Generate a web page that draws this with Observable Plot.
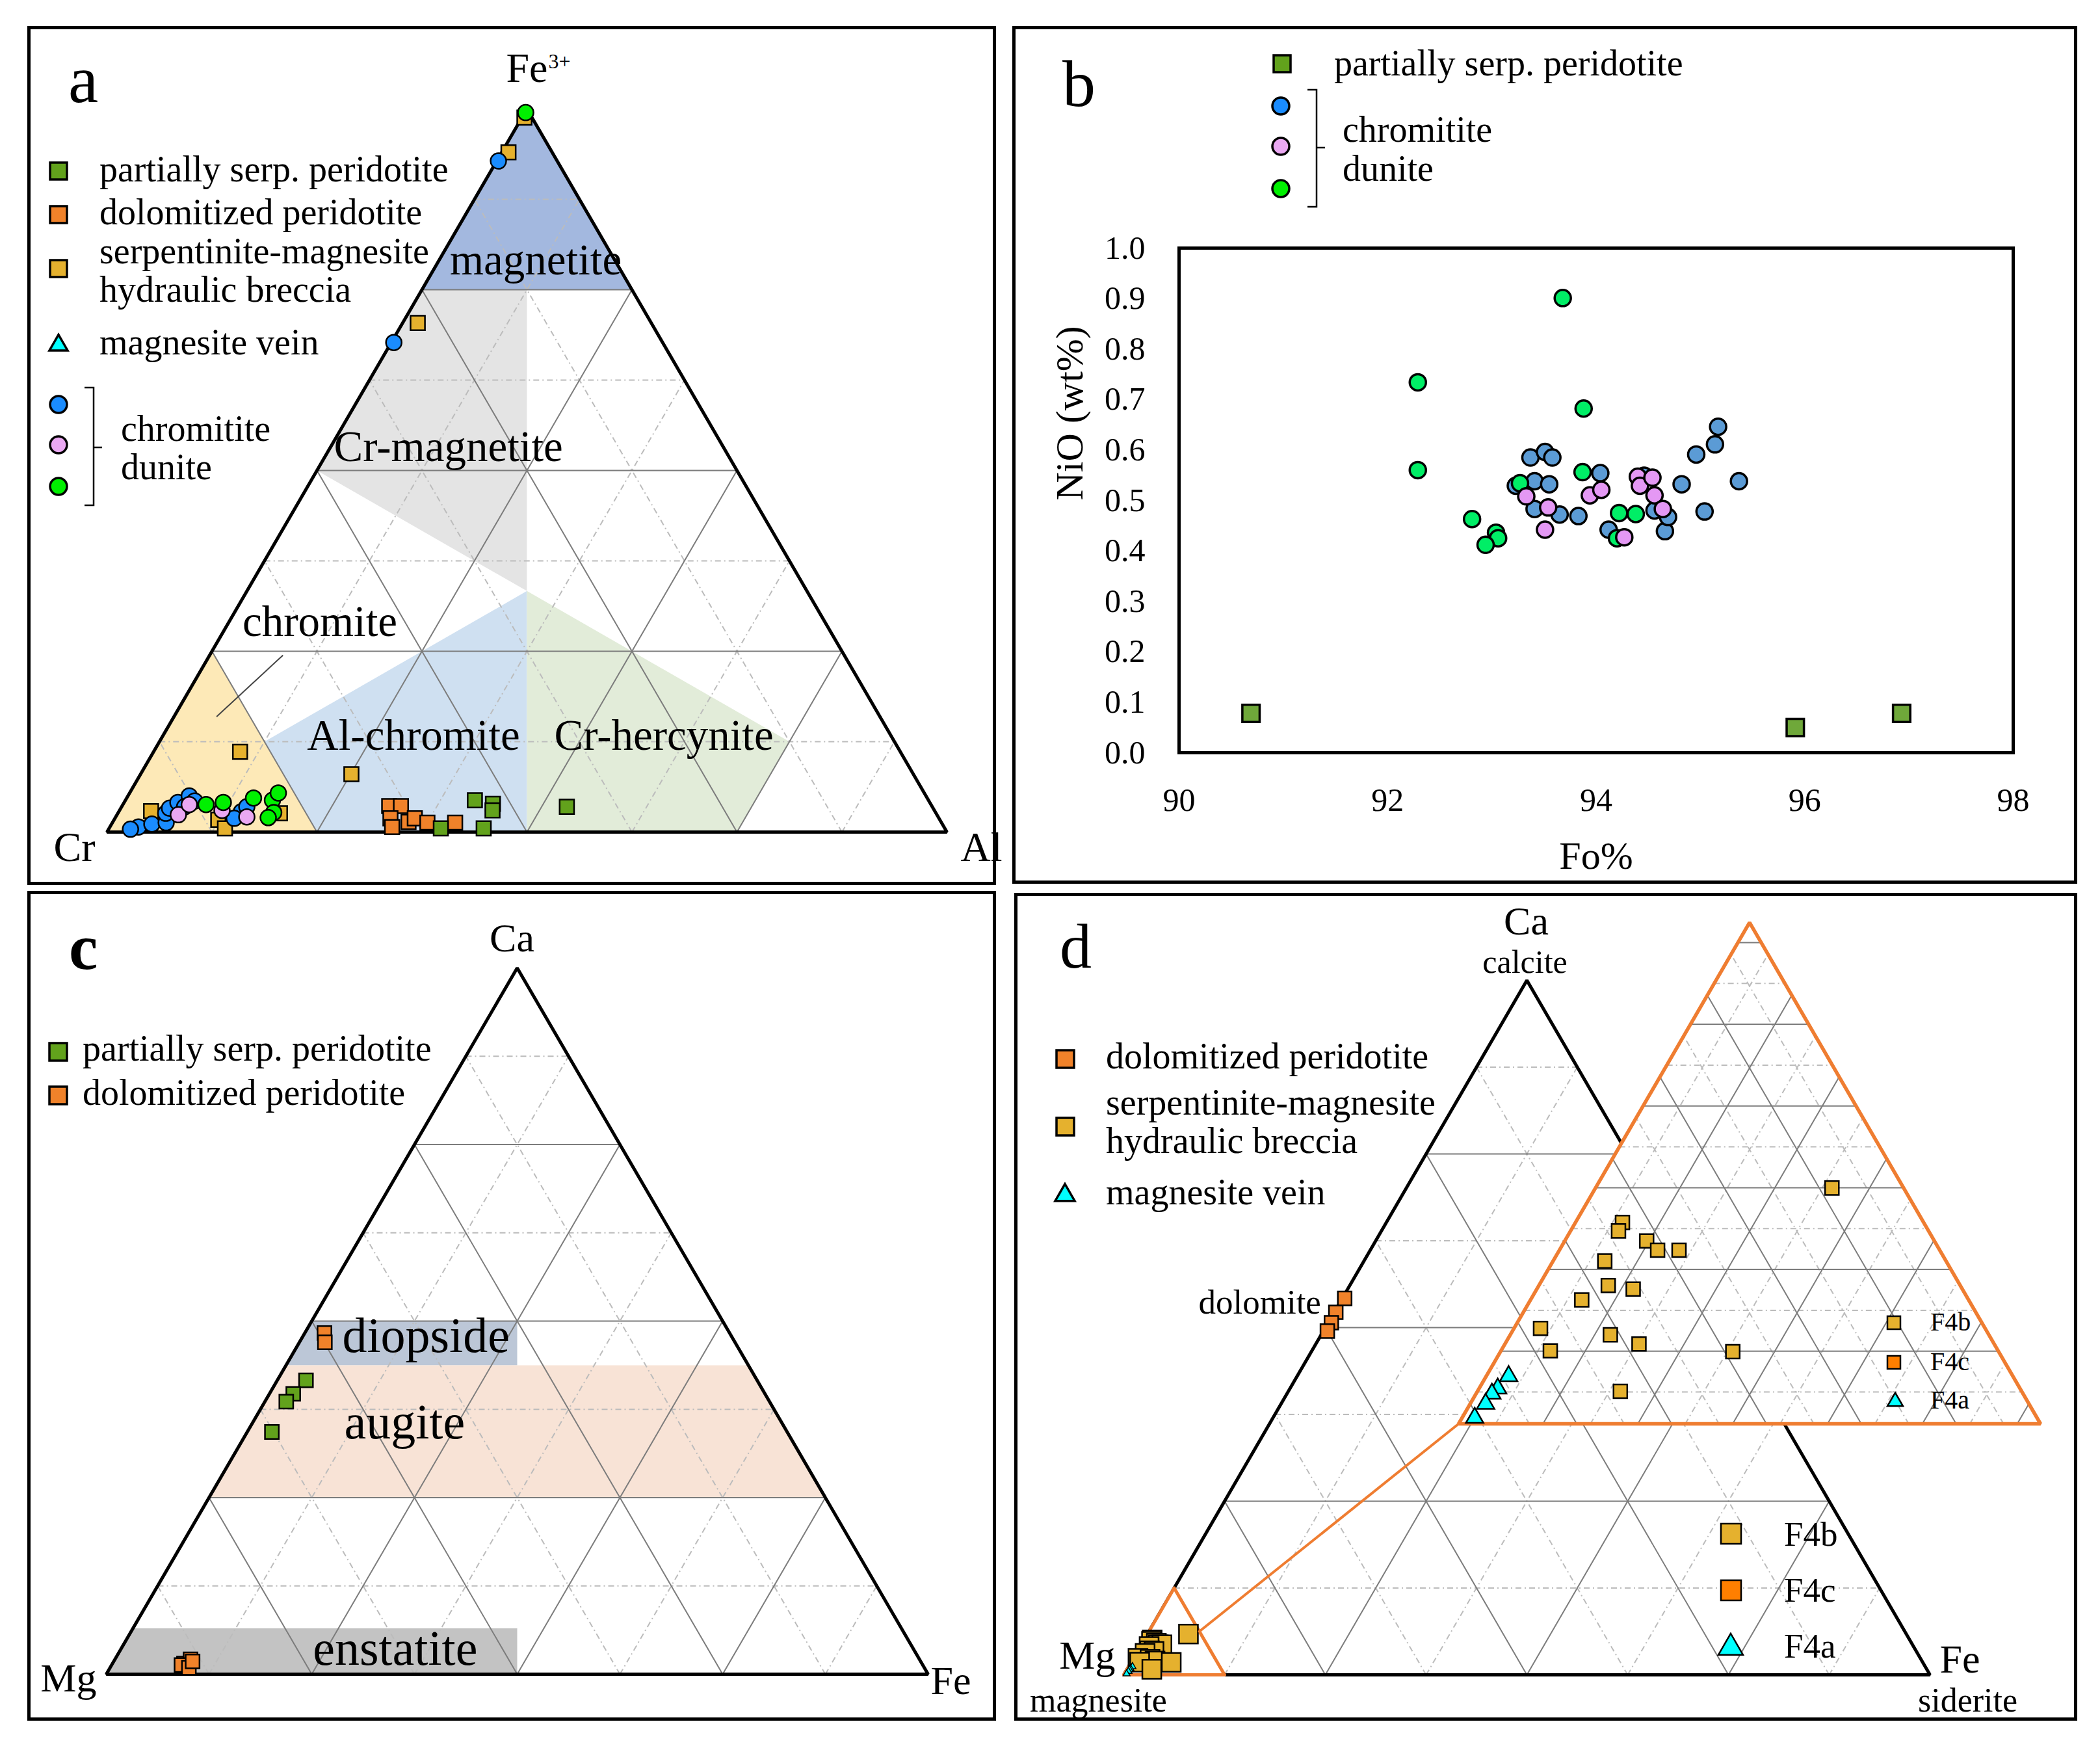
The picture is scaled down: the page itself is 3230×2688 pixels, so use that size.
<!DOCTYPE html>
<html><head><meta charset="utf-8">
<script src="https://cdn.jsdelivr.net/npm/d3@7"></script>
<script src="https://cdn.jsdelivr.net/npm/@observablehq/plot@0.6"></script>
<style>
html,body{margin:0;padding:0;background:#fff;}
#fig{position:relative;width:3230px;height:2688px;background:#fff;font-family:"Liberation Serif","DejaVu Serif",serif;color:#000;overflow:hidden}
.border{position:absolute;border:5px solid #000;box-sizing:border-box;pointer-events:none}
.t{position:absolute;white-space:nowrap;line-height:1}
.plotwrap{position:absolute}
</style></head><body><div id="fig"></div>
<script>
// ================= DATA =================
// Panel a: spinel ternary Cr - Al - Fe3+ ; each point = [Fe3+ %, Al %]
const aPeridotite = [[4.4,41.6],[3.9,44.0],[3.0,44.4],[0.5,39.5],[0.5,44.6],[3.5,53.0]];
const aDolomitized = [[3.6,31.8],[3.6,33.2],[1.9,32.8],[0.7,33.6],[1.4,35.2],[1.9,35.7],[1.3,37.5],[1.3,40.8]];
const aBreccia = [[11.1,10.3],[8.0,25.1],[2.9,3.8],[1.7,12.4],[0.5,13.8],[2.6,19.3],[94.0,0.8],[70.4,1.8],[98.8,0.3]];
const aBlue = [[0.7,3.4],[1.1,4.8],[1.3,6.4],[2.6,5.7],[3.3,5.8],[4.1,6.4],[5.0,7.3],[4.3,8.3],[2.8,14.6],[3.5,14.9],[0.4,2.6],[3.5,7.5],[1.9,14.2],[92.8,0.2],[67.7,0.3]];
const aPink = [[2.4,7.3],[3.8,7.9],[3.0,12.2],[2.1,15.6]];
const aGreen = [[3.8,9.9],[4.1,11.8],[4.7,15.1],[4.4,17.5],[5.4,17.7],[2.7,18.5],[2.0,18.2],[99.5,0.1]];
const aFieldNames = ["magnetite","Cr-magnetite","chromite","Al-chromite","Cr-hercynite"];
const aFieldColors = ["#a3b8df","#e4e4e4","#fde9b7","#cfe0f1","#e2ecd9"];
const aFieldPolys = [
  [[100,0],[75,0],[75,25]],
  [[75,0],[75,12.5],[33.33,33.33],[50,0]],
  [[0,0],[25,0],[0,25]],
  [[0,25],[12.5,12.5],[33.33,33.33],[0,50]],
  [[0,50],[33.33,33.33],[12.5,75],[0,75]]
];
const aLabelPos = [[77.1,12.5],[51.3,15.0],[27.1,11.8],[11.4,30.8],[11.4,60.6]];
const aLeader = [[24.4,8.7],[16.0,5.1]];

// Panel b: Fo% vs NiO (wt%)
const bPeridotite = [[90.69,0.078],[95.91,0.050],[96.93,0.078]];
const bBlue = [[93.37,0.585],[93.51,0.596],[93.58,0.585],[93.23,0.529],[93.41,0.538],[93.55,0.532],[93.41,0.483],[93.65,0.472],[93.83,0.469],[94.04,0.554],[94.12,0.442],[94.66,0.439],[94.69,0.467],[94.56,0.480],[94.46,0.549],[94.82,0.532],[94.96,0.591],[95.04,0.478],[95.14,0.611],[95.17,0.646],[95.37,0.538]];
const bPink = [[93.33,0.508],[93.54,0.486],[93.51,0.442],[93.94,0.510],[94.05,0.521],[94.40,0.547],[94.42,0.529],[94.54,0.545],[94.56,0.510],[94.64,0.483],[94.27,0.427]];
const bGreen = [[93.68,0.901],[92.29,0.734],[93.88,0.682],[92.29,0.560],[93.87,0.556],[93.27,0.534],[92.81,0.463],[93.04,0.436],[93.06,0.425],[92.94,0.412],[94.22,0.475],[94.38,0.473],[94.20,0.425]];
const bXTicks = [90,92,94,96,98];
const bYTicks = [0,0.1,0.2,0.3,0.4,0.5,0.6,0.7,0.8,0.9,1.0];

// Panel c: pyroxene ternary Mg - Fe - Ca ; each point = [Ca %, Fe %]
const cPeridotite = [[41.6,3.5],[39.7,2.9],[38.6,2.6],[34.3,3.0]];
const cDolomitized = [[48.3,2.4],[47.0,3.1],[1.5,8.7],[2.1,9.2],[1.3,8.5],[0.9,9.6],[1.8,9.6]];
const cFieldNames = ["diopside","augite","enstatite"];
const cFieldColors = ["#bcc7d7","#f8e3d6","#c3c3c3"];
const cFieldPolys = [
  [[50,0],[50,25],[43.75,28.125],[43.75,0]],
  [[43.75,0],[43.75,56.25],[25,75],[25,0]],
  [[6.5,0],[6.5,46.75],[0,50],[0,0]]
];
const cLabelPos = [[45.6,16.1],[33.4,19.6],[1.3,34.5]];

// Panel d: carbonate ternary Mg - Fe - Ca ; each point = [Ca %, Fe %]
const dDolomitized = [[54.2,0.3],[52.2,0.2],[50.7,0.4],[49.5,0.5]];
const dBreccia = [[5.88,5.08],[5.02,1.01],[4.81,1.03],[4.56,1.76],[4.33,2.11],[4.33,2.57],[4.06,1.11],[3.45,1.49],[3.36,2.07],[3.09,1.10],[2.38,0.57],[2.22,2.15],[1.99,2.88],[1.82,1.06],[1.80,4.99],[0.81,3.07]];
const dVein = [[1.19,0.48],[0.88,0.40],[0.75,0.34],[0.50,0.33],[0.15,0.27]];
const dInsetRange = 12.5; // % shown by the magnified inset

// colours
const COL = {
  peridotite: "#62a21c", peridotiteB: "#6fa83a", dolomitized: "#f0822a", breccia: "#e5b12e",
  vein: "#00ffff", blue: "#1a8cff", pink: "#eaa8f2", green: "#00f000",
  blueB: "#5b9bd5", pinkB: "#e498f4", greenB: "#00ee66", f4c: "#ff7f00", inset: "#ef7d31"
};
const FONT = '"Liberation Serif","DejaVu Serif",serif';

// ================= HELPERS =================
const fig = document.getElementById("fig");
const SQ = Math.sqrt(3) / 2;
const P = (t, r) => [r + t / 2, t * SQ];          // ternary (top, right) fractions -> cartesian
const pct = arr => arr.map(([t, r]) => P(t / 100, r / 100));
const gridVals = d3.range(1, 8).map(k => k / 8);

function gridSegs(vals, isSolid, map = p => p) {
  const out = [];
  vals.forEach((v, i) => {
    const solid = isSolid(v, i);
    [[P(v, 0), P(v, 1 - v)], [P(0, v), P(1 - v, v)], [P(0, 1 - v), P(1 - v, 0)]]
      .forEach(([a, b]) => out.push({a: map(a), b: map(b), solid}));
  });
  return out;
}
function gridMarks(segs) {
  const acc = {x1: d => d.a[0], y1: d => d.a[1], x2: d => d.b[0], y2: d => d.b[1]};
  return [
    Plot.link(segs.filter(d => !d.solid), {...acc, stroke: "#bcbcbc", strokeWidth: 2, strokeDasharray: "9,5,2,5"}),
    Plot.link(segs.filter(d => d.solid), {...acc, stroke: "#7c7c7c", strokeWidth: 2})
  ];
}
const outline = (map = p => p, stroke = "#000", sw = 5, fill = "none") =>
  Plot.line([P(0, 0), P(0, 1), P(1, 0)].map(map), {curve: "linear-closed", stroke, strokeWidth: sw, fill, strokeLinejoin: "miter"});
const lab = (p, s, opts) => Plot.text([{p, s}], {x: d => d.p[0], y: d => d.p[1], text: d => d.s, lineAnchor: "bottom", textAnchor: "middle", ...opts});
const dots = (pts, symbol, r, fill, sw = 2.5) => Plot.dot(pts, {x: d => d[0], y: d => d[1], symbol, r, fill, stroke: "#000", strokeWidth: sw});

function addPlot(chart, left, top) {
  const w = document.createElement("div");
  w.className = "plotwrap"; w.style.left = left + "px"; w.style.top = top + "px";
  w.appendChild(chart); fig.appendChild(w);
}
function addBorder(left, top, w, h) {
  const d = document.createElement("div"); d.className = "border";
  Object.assign(d.style, {left: left + "px", top: top + "px", width: w + "px", height: h + "px"});
  fig.appendChild(d);
}
function txt(s, x, baseline, size, opts = {}) {
  const d = document.createElement("div"); d.className = "t"; d.textContent = s;
  d.style.fontSize = size + "px"; d.style.left = x + "px"; d.style.top = (baseline - 0.8375 * size) + "px";
  if (opts.bold) d.style.fontWeight = "bold";
  fig.appendChild(d);
}
const NS = "http://www.w3.org/2000/svg";
function svgEl(tag, attrs) { const e = document.createElementNS(NS, tag); for (const k in attrs) e.setAttribute(k, attrs[k]); return e; }
function marker(shape, fill, size, cx, cy, sw = 3.5) {
  const pad = 6, W = size + 2 * pad;
  const s = svgEl("svg", {width: W, height: W});
  Object.assign(s.style, {position: "absolute", left: (cx - W / 2) + "px", top: (cy - W / 2) + "px", overflow: "visible"});
  let e;
  if (shape === "square") e = svgEl("rect", {x: pad, y: pad, width: size, height: size});
  else if (shape === "circle") e = svgEl("circle", {cx: W / 2, cy: W / 2, r: size / 2});
  else { const h = size * SQ, y0 = W / 2 - h / 2 - h * 0.05; e = svgEl("polygon", {points: `${W/2},${y0} ${W/2 - size/2},${y0 + h} ${W/2 + size/2},${y0 + h}`}); }
  e.setAttribute("fill", fill); e.setAttribute("stroke", "#000"); e.setAttribute("stroke-width", sw); e.setAttribute("stroke-linejoin", "miter");
  s.appendChild(e); fig.appendChild(s);
}
function bracket(x1, x2, y1, y2, ym, xt) {
  const s = svgEl("svg", {width: 3230, height: 2688});
  Object.assign(s.style, {position: "absolute", left: "0px", top: "0px", overflow: "visible", pointerEvents: "none"});
  s.appendChild(svgEl("path", {d: `M${x1},${y1}H${x2}V${y2}H${x1}M${x2},${ym}H${xt}`, fill: "none", stroke: "#000", "stroke-width": 2.5}));
  fig.appendChild(s);
}
const baseStyle = {fontFamily: FONT, background: "transparent", overflow: "visible", fontSize: "56px"};

// ================= PANEL A =================
{
  const L = 42, T = 40, W = 1490, H = 1321;
  const chart = Plot.plot({
    width: W, height: H, marginLeft: 122, marginRight: 76, marginTop: 127, marginBottom: 82,
    x: {domain: [0, 1], axis: null}, y: {domain: [0, SQ], axis: null},
    style: baseStyle,
    marks: [
      ...aFieldPolys.map((poly, i) => Plot.line(pct(poly), {curve: "linear-closed", fill: aFieldColors[i], stroke: "none"})),
      ...gridMarks(gridSegs(gridVals, (v, i) => i % 2 === 1)),
      outline(),
      Plot.line(pct(aLeader), {stroke: "#444", strokeWidth: 2}),
      Plot.text(pct(aLabelPos), {x: d => d[0], y: d => d[1], text: (d, i) => aFieldNames[i], fontSize: 67, lineAnchor: "bottom", textAnchor: "middle"}),
      dots(pct(aBreccia), "square", 12.5, COL.breccia),
      dots(pct(aDolomitized), "square", 12.5, COL.dolomitized),
      dots(pct(aPeridotite), "square", 12.5, COL.peridotite),
      dots(pct(aBlue), "circle", 12, COL.blue),
      dots(pct(aPink), "circle", 12, COL.pink),
      dots(pct(aGreen), "circle", 12, COL.green),
      lab(P(1, 0), "Fe", {dy: -42, fontSize: 64}),
      lab(P(1, 0), "3+", {textAnchor: "start", dx: 33, dy: -63, fontSize: 32}),
      lab(P(0, 0), "Cr", {textAnchor: "end", dx: -18, dy: 44, fontSize: 64}),
      lab(P(0, 1), "Al", {textAnchor: "start", dx: 21, dy: 44, fontSize: 64})
    ]
  });
  addPlot(chart, L, T);
  addBorder(L, T, W, H);
  txt("a", 105, 157, 104);
  marker("square", COL.peridotite, 26, 90, 263);
  marker("square", COL.dolomitized, 26, 90, 330);
  marker("square", COL.breccia, 26, 90, 413);
  marker("triangle", COL.vein, 28, 90, 528);
  marker("circle", COL.blue, 26, 90, 622);
  marker("circle", COL.pink, 26, 90, 684);
  marker("circle", COL.green, 26, 90, 748);
  txt("partially serp. peridotite", 153, 279, 56);
  txt("dolomitized peridotite", 153, 345, 56);
  txt("serpentinite-magnesite", 153, 405, 56);
  txt("hydraulic breccia", 153, 464, 56);
  txt("magnesite vein", 153, 545, 56);
  bracket(130, 144, 596, 777, 688, 157);
  txt("chromitite", 186, 678, 56);
  txt("dunite", 186, 737, 56);
}

// ================= PANEL B =================
{
  const L = 1557, T = 40, W = 1638, H = 1319;
  const chart = Plot.plot({
    width: W, height: H, marginLeft: 256, marginRight: 99, marginTop: 341, marginBottom: 202,
    x: {domain: [90, 98], ticks: bXTicks, tickSize: 0, tickPadding: 54, label: null},
    y: {domain: [0, 1], ticks: bYTicks, tickSize: 0, tickPadding: 52, tickFormat: d3.format(".1f"), label: null},
    style: {...baseStyle, fontSize: "50px"},
    marks: [
      Plot.frame({stroke: "#000", strokeWidth: 5}),
      dots(bPeridotite, "square", 15, COL.peridotiteB, 3.5),
      dots(bBlue, "circle", 12.5, COL.blueB, 3.5),
      dots(bGreen, "circle", 12.5, COL.greenB, 3.5),
      dots(bPink, "circle", 12.5, COL.pinkB, 3.5),
      Plot.text(["Fo%"], {frameAnchor: "bottom", dy: 178, lineAnchor: "bottom", fontSize: 60}),
      Plot.text(["NiO (wt%)"], {frameAnchor: "left", rotate: -90, dx: -149, lineAnchor: "bottom", fontSize: 60})
    ]
  });
  addPlot(chart, L, T);
  addBorder(L, T, W, H);
  txt("b", 1634, 163, 102);
  marker("square", COL.peridotite, 26, 1972, 98);
  marker("circle", COL.blue, 26, 1970, 163);
  marker("circle", COL.pink, 26, 1970, 225);
  marker("circle", COL.green, 26, 1970, 290);
  txt("partially serp. peridotite", 2052, 116, 56);
  bracket(2011, 2025, 138, 318, 227, 2038);
  txt("chromitite", 2065, 218, 56);
  txt("dunite", 2065, 278, 56);
}

// ================= PANEL C =================
{
  const L = 42, T = 1370, W = 1490, H = 1276;
  const chart = Plot.plot({
    width: W, height: H, marginLeft: 121, marginRight: 105, marginTop: 118, marginBottom: 72,
    x: {domain: [0, 1], axis: null}, y: {domain: [0, SQ], axis: null},
    style: baseStyle,
    marks: [
      ...cFieldPolys.map((poly, i) => Plot.line(pct(poly), {curve: "linear-closed", fill: cFieldColors[i], stroke: "none"})),
      ...gridMarks(gridSegs(gridVals, (v, i) => i % 2 === 1)),
      outline(),
      Plot.text(pct(cLabelPos), {x: d => d[0], y: d => d[1], text: (d, i) => cFieldNames[i], fontSize: 76, lineAnchor: "bottom", textAnchor: "middle"}),
      dots(pct(cPeridotite), "square", 12, COL.peridotite),
      dots(pct(cDolomitized), "square", 12, COL.dolomitized),
      lab(P(1, 0), "Ca", {dx: -8, dy: -26, fontSize: 62}),
      lab(P(0, 0), "Mg", {textAnchor: "end", dx: -15, dy: 26, fontSize: 62}),
      lab(P(0, 1), "Fe", {textAnchor: "start", dx: 4, dy: 30, fontSize: 62})
    ]
  });
  addPlot(chart, L, T);
  addBorder(L, T, W, H);
  txt("c", 106, 1491, 100, {bold: true});
  marker("square", COL.peridotite, 27, 89, 1617);
  marker("square", COL.dolomitized, 27, 89, 1684);
  txt("partially serp. peridotite", 127, 1631, 56);
  txt("dolomitized peridotite", 127, 1699, 56);
}

// ================= PANEL D =================
{
  const L = 1560, T = 1373, W = 1635, H = 1273;
  const r = dInsetRange / 100;
  const IN = {x0: 0.4153, y0: 0.313, s: 0.7218};         // inset placement (layout)
  const toInset = ([x, y]) => [IN.x0 + IN.s * x, IN.y0 + IN.s * y];
  const insetPts = arr => arr.map(([ca, fe]) => toInset(P(ca / 100 / r, fe / 100 / r)));
  const insetGridVals = d3.range(12).map(k => 0.0635 + 0.0815 * k);
  const chart = Plot.plot({
    width: W, height: H, marginLeft: 168, marginRight: 227, marginTop: 134, marginBottom: 71,
    x: {domain: [0, 1], axis: null}, y: {domain: [0, SQ], axis: null},
    style: baseStyle,
    marks: [
      ...gridMarks(gridSegs(gridVals, (v, i) => i % 2 === 1)),
      outline(),
      dots(pct(dDolomitized), "square", 11.9, COL.dolomitized),
      Plot.line([P(0, 0), P(0, r), P(r, 0)], {curve: "linear-closed", stroke: COL.inset, strokeWidth: 5, fill: "white"}),
      dots(pct(dBreccia), "square", 16.4, COL.breccia),
      dots(pct(dVein), "triangle", 4, COL.vein, 1.5),
      Plot.line([P(r / 2, r / 2), toInset(P(0, 0))], {stroke: COL.inset, strokeWidth: 4}),
      outline(toInset, "none", 0, "white"),
      ...gridMarks(gridSegs(insetGridVals, (v, i) => i % 2 === 1, toInset)),
      outline(toInset, COL.inset, 5.5),
      dots(insetPts(dBreccia), "square", 11.9, COL.breccia),
      dots(insetPts(dVein), "triangle", 10, COL.vein),
      lab(P(0.52, 0), "dolomite", {textAnchor: "end", dx: -19, fontSize: 53}),
      lab(P(1, 0), "Ca", {dx: -1, dy: -71, fontSize: 62}),
      lab(P(1, 0), "calcite", {dx: -3, dy: -12, fontSize: 50}),
      lab(P(0, 0), "Mg", {textAnchor: "end", dx: -13, dy: -10, fontSize: 62}),
      lab(P(0, 0), "magnesite", {dx: -39, dy: 56, fontSize: 52}),
      lab(P(0, 1), "Fe", {textAnchor: "start", dx: 15, dy: -4, fontSize: 62}),
      lab(P(0, 1), "siderite", {dx: 58, dy: 56, fontSize: 52})
    ]
  });
  addPlot(chart, L, T);
  addBorder(L, T, W, H);
  txt("d", 1630, 1488, 98);
  marker("square", COL.dolomitized, 27, 1638, 1628);
  marker("square", COL.breccia, 27, 1638, 1732);
  marker("triangle", COL.vein, 30, 1638, 1835);
  txt("dolomitized peridotite", 1701, 1643, 56);
  txt("serpentinite-magnesite", 1701, 1714, 56);
  txt("hydraulic breccia", 1701, 1773, 56);
  txt("magnesite vein", 1701, 1852, 56);
  // big legend
  marker("square", COL.breccia, 31, 2662, 2358, 2.5);
  marker("square", COL.f4c, 31, 2662, 2445, 2.5);
  marker("triangle", COL.vein, 38, 2662, 2530, 2.5);
  txt("F4b", 2744, 2377, 53);
  txt("F4c", 2744, 2463, 53);
  txt("F4a", 2744, 2549, 53);
  // inset legend
  marker("square", COL.breccia, 20, 2913, 2034, 2.5);
  marker("square", COL.f4c, 20, 2913, 2095, 2.5);
  marker("triangle", COL.vein, 24, 2915, 2153, 2.5);
  txt("F4b", 2969, 2046, 40);
  txt("F4c", 2969, 2107, 40);
  txt("F4a", 2969, 2166, 40);
}
</script></body></html>
